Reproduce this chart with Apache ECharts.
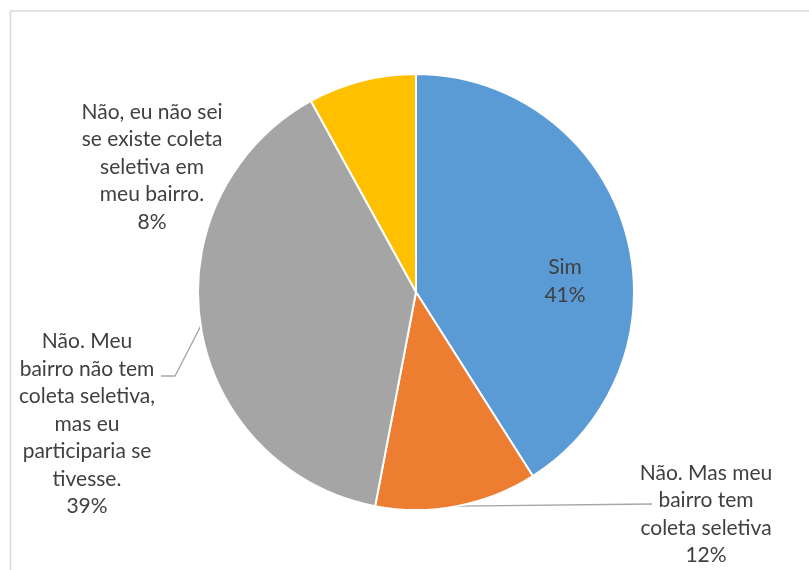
<!DOCTYPE html>
<html>
<head>
<meta charset="utf-8">
<script src="https://cdn.jsdelivr.net/npm/echarts@6/dist/echarts.min.js"></script>
<style>
html,body{margin:0;padding:0;background:#fff;}
#c{width:809px;height:570px;}
</style>
</head>
<body>
<div id="c"></div>
<script>
const categories = [
  'Sim',
  'Não. Mas meu\nbairro tem\ncoleta seletiva',
  'Não. Meu\nbairro não tem\ncoleta seletiva,\nmas eu\nparticiparia se\ntivesse.',
  'Não, eu não sei\nse existe coleta\nseletiva em\nmeu bairro.'
];
const values = [41, 12, 39, 8];
const colors = ['#5B9BD5', '#ED7D31', '#A5A5A5', '#FFC000'];

// label centre positions per slice
const labelPos = [
  {x: 565, y: 281},
  {x: 706, y: 514},
  {x: 87, y: 424},
  {x: 152, y: 167}
];
// leader line bend/end points, relative to the label centre
const leaderRel = [
  null,
  [[-54, -10]],
  [[88, -48], [74, -48]],
  null
];

const chart = echarts.init(document.getElementById('c'));
chart.setOption({
  animation: false,
  graphic: [{
    type: 'rect',
    shape: {x: 10.5, y: 11, width: 900, height: 700},
    style: {fill: 'none', stroke: '#d9d9d9', lineWidth: 1.5},
    silent: true
  }],
  series: [{
    type: 'pie',
    center: [416, 292],
    radius: [0, 218],
    startAngle: 90,
    clockwise: true,
    avoidLabelOverlap: false,
    itemStyle: {borderColor: '#fff', borderWidth: 2},
    label: {
      show: true,
      formatter: p => p.name + '\n' + Math.round(p.percent) + '%',
      fontFamily: 'Lato',
      fontSize: 21,
      lineHeight: 27.5,
      color: '#404040',
      align: 'center'
    },
    labelLine: {
      show: true,
      lineStyle: {color: '#a6a6a6', width: 1.3}
    },
    labelLayout: function (p) {
      const i = p.dataIndex;
      const pos = labelPos[i];
      const out = {x: pos.x, y: pos.y, align: 'center', verticalAlign: 'middle'};
      if (leaderRel[i] && p.labelLinePoints) {
        const pts = [p.labelLinePoints[0].slice()];
        leaderRel[i].forEach(d => pts.push([pos.x + d[0], pos.y + d[1]]));
        out.labelLinePoints = pts;
      }
      return out;
    },
    data: categories.map((n, i) => ({
      name: n,
      value: values[i],
      itemStyle: {color: colors[i]},
      labelLine: {show: i === 1 || i === 2}
    }))
  }]
});
</script>
</body>
</html>
